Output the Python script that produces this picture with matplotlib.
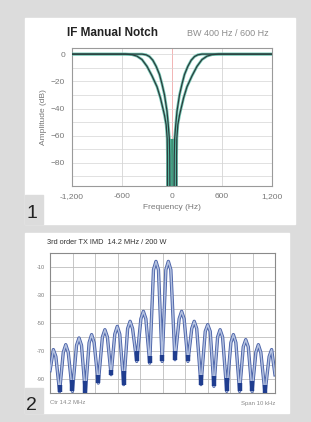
import numpy as np
import matplotlib
matplotlib.use("Agg")
import matplotlib.pyplot as plt
from matplotlib.patches import Rectangle

plt.rcParams['font.family'] = ['Liberation Sans', 'DejaVu Sans']

# --- panel 1: IF manual notch response (one side, mirrored) ---
notch_ticks = [-1200, -600, 0, 600, 1200]
notch_tick_labels = ["-1,200", "-600", "0", "600", "1,200"]
db_ticks = [0, -20, -40, -60, -80]

wide_hz = [55, 55, 58, 70, 90, 105, 140, 180, 240, 300, 360, 420, 480, 560, 1200]
wide_db = [-100, -75, -62, -52, -45, -41, -32, -24, -16, -9, -4, -1.5, -0.4, 0, 0]
narrow_hz = [25, 27, 32, 45, 60, 90, 120, 150, 190, 230, 270, 310, 360, 1200]
narrow_db = [-100, -75, -62, -52, -42, -30, -22, -15, -9, -4.5, -1.8, -0.5, 0, 0]

# --- panel 2: 3rd order TX IMD spectrum ---
peak_khz = [-4.85, -4.30, -3.71, -3.15, -2.56, -2.01, -1.44, -0.85, -0.29,
            0.26, 0.85, 1.41, 2.01, 2.56, 3.15, 3.70, 4.26, 4.85]
peak_db = [-69, -65.5, -60.7, -58.3, -54.8, -52.4, -48.8, -41.7, -6,
           -6, -41.7, -48.8, -51.2, -54.8, -58.3, -61.9, -65.5, -69]
shoulder_db = [-74, -71, -66, -64, -60, -58, -54, -47, -12,
               -12, -47, -54, -56, -60, -64, -67, -71, -74]
valley_lo = [-99, -98.8, -100, -92.9, -86.9, -94, -77.4, -78.6, -77.4,
             -76.2, -77.4, -94, -95.2, -98.8, -98.8, -98.8, -100]
valley_hi = [-94, -90.5, -91.7, -86.9, -83.3, -84.5, -70.2, -73.8, -72.6,
             -70.2, -72.6, -86.9, -88.1, -89.3, -92.9, -91.7, -94]
edge_khz = [-5.0, 5.0]
edge_db = [-84, -87]
imd_yticks = [-10, -30, -50, -70, -90]
lobe_half = 0.11

W, H = 311, 422
BG = '#dcdcdc'


def fx(x):
    return x / W


def fy(y):
    return 1 - y / H


def panel(fig, x0, y0, x1, y1, notch_y):
    fig.add_artist(Rectangle((fx(x0), fy(y1)), (x1 - x0) / W, (y1 - y0) / H,
                             transform=fig.transFigure, color='white', zorder=0))
    fig.add_artist(Rectangle((fx(x0), fy(y1)), 18 / W, (y1 - notch_y) / H,
                             transform=fig.transFigure, color=BG, zorder=0))


fig = plt.figure(figsize=(W / 100, H / 100), dpi=100, facecolor=BG)
panel(fig, 25, 18, 295, 224, 195)
panel(fig, 25, 233, 289, 413, 388)

# ---------------- panel 1 ----------------
ax1 = fig.add_axes([fx(72), fy(186), 200 / W, 138 / H])
for hz, db in ((wide_hz, wide_db), (narrow_hz, narrow_db)):
    hz = np.array(hz)
    db = np.array(db)
    f = np.concatenate([-hz[::-1], hz])
    a = np.concatenate([db[::-1], db])
    ax1.plot(f, a, color='#5bbfa8', lw=2.0, alpha=0.85, zorder=3)
    ax1.plot(f, a, color='#2b3d3d', lw=0.9, zorder=4)

# green floor of the notch
w_hz = np.array(wide_hz)
w_db = np.array(wide_db)
m = w_db <= -62
ax1.fill_betweenx(w_db[m], -w_hz[m], w_hz[m], color='#1f8a68', alpha=0.85, lw=0, zorder=2)

ax1.set_xlim(-1200, 1200)
ax1.set_ylim(-97, 4.5)
ax1.set_xticks(notch_ticks)
ax1.set_xticklabels(notch_tick_labels)
ax1.set_yticks(db_ticks)
ax1.set_yticks(np.arange(-90, 0, 10), minor=True)
ax1.tick_params(length=0, labelsize=6, labelcolor='#777777', pad=5)
ax1.tick_params(which='minor', length=0)
ax1.grid(True, which='both', axis='y', color='#d4d4d4', lw=0.5)
for xv in notch_ticks[1:-1]:
    ax1.axvline(xv, color='#f0a8a8' if xv == 0 else '#d4d4d4', lw=0.6, zorder=1)
for s in ax1.spines.values():
    s.set_color('#9a9a9a')
    s.set_linewidth(0.8)
ax1.set_ylabel("Amplitude (dB)", fontsize=6, color='#777777', labelpad=3)
ax1.set_xlabel("Frequency (Hz)", fontsize=6, color='#777777', labelpad=3)

fig.text(fx(67), fy(36), "IF Manual Notch", fontsize=8.5, fontweight='bold',
         color='#222222', va='baseline')
fig.text(fx(187), fy(36), "BW 400 Hz / 600 Hz", fontsize=6.5, color='#8c8c8c',
         va='baseline')

# ---------------- panel 2 ----------------
ax2 = fig.add_axes([fx(50), fy(393), 225 / W, 140 / H])
valley_khz = [(peak_khz[i] + peak_khz[i + 1]) / 2 for i in range(len(peak_khz) - 1)]
tx = [edge_khz[0]]
ty = [edge_db[0]]
for i in range(len(peak_khz)):
    if i > 0:
        tx.append(peak_khz[i] - lobe_half)
        ty.append(shoulder_db[i])
    tx.append(peak_khz[i])
    ty.append(peak_db[i])
    if i < len(valley_khz):
        tx.append(peak_khz[i] + lobe_half)
        ty.append(shoulder_db[i])
        tx.append(valley_khz[i])
        ty.append(valley_lo[i])
tx.append(edge_khz[1])
ty.append(edge_db[1])

ax2.plot(tx, ty, color='#4a62a8', lw=2.4, solid_joinstyle='round', zorder=3)
ax2.plot(tx, ty, color='#b3c1e0', lw=1.1, solid_joinstyle='round', zorder=4)
ax2.vlines(valley_khz, valley_lo, valley_hi, color='#1f3d8f', lw=3.2, zorder=5)

ax2.set_xlim(-5, 5)
ax2.set_ylim(-100, 0)
ax2.set_xticks(np.arange(-5, 6, 1))
ax2.set_xticklabels([])
ax2.set_yticks(np.arange(-100, 1, 10))
ax2.set_yticklabels([str(v) if v in imd_yticks else "" for v in np.arange(-100, 1, 10)])
ax2.tick_params(length=0, labelsize=4, labelcolor='#777777', pad=4)
ax2.grid(True, color='#bdbdbd', lw=0.6)
for s in ax2.spines.values():
    s.set_color('#8a8a8a')
    s.set_linewidth(0.8)

fig.text(fx(47), fy(243), "3rd order TX IMD  14.2 MHz / 200 W", fontsize=5.3,
         color='#333333', va='center')
fig.text(fx(50), fy(403), "Ctr 14.2 MHz", fontsize=4.3, color='#8a8a8a', va='center')
fig.text(fx(275), fy(403), "Span 10 kHz", fontsize=4.3, color='#8a8a8a', va='center',
         ha='right')

# panel numbers
fig.text(fx(26), fy(214), "1", fontsize=14, color='#222222', va='center')
fig.text(fx(26), fy(405), "2", fontsize=14, color='#222222', va='center')

fig.savefig("out.png", dpi=100, facecolor=BG)
